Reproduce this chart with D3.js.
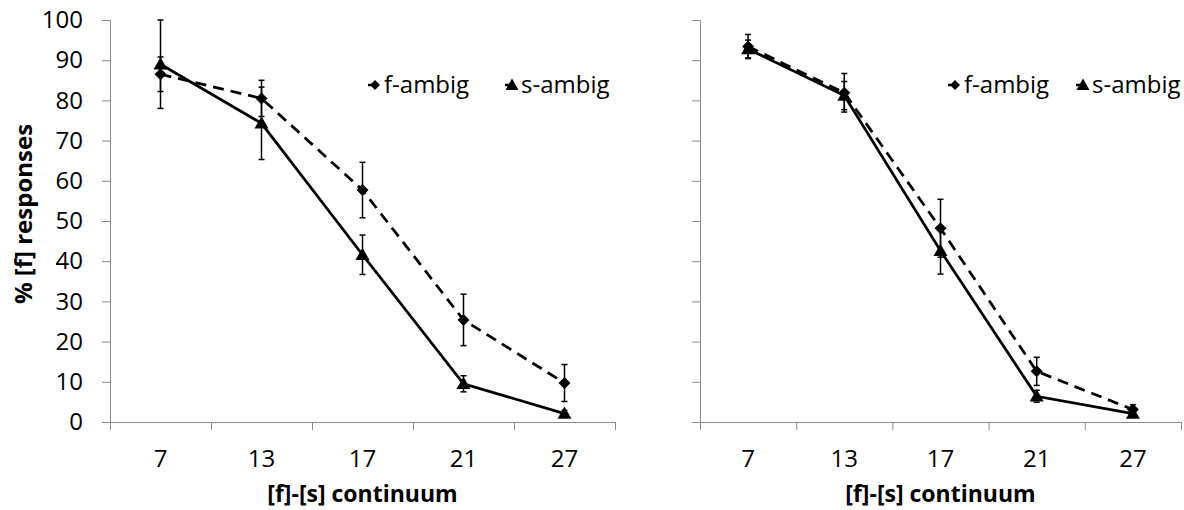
<!DOCTYPE html>
<html>
<head>
<meta charset="utf-8">
<script src="https://cdn.jsdelivr.net/npm/d3@7"></script>
<style>
  body { margin: 0; background: #fff; }
  text { font-family: "Open Sans", Lato, sans-serif; fill: #000; }
</style>
</head>
<body>
<div id="vis"></div>
<script>
// values
const categories = ["7", "13", "17", "21", "27"];
const seriesNames = ["f-ambig", "s-ambig"];
const yTicks = [0, 10, 20, 30, 40, 50, 60, 70, 80, 90, 100];

const leftF = [86.5, 80.5, 57.7, 25.4, 9.7];
const leftFErr = [4.3, 4.5, 6.9, 6.4, 4.6];
const leftS = [89.0, 74.3, 41.6, 9.5, 2.1];
const leftSErr = [11.0, 9.0, 4.9, 2.0, 0.8];

const rightF = [93.4, 81.9, 48.2, 12.6, 3.1];
const rightFErr = [3.0, 4.8, 7.2, 3.5, 1.2];
const rightS = [92.8, 81.2, 42.6, 6.4, 2.1];
const rightSErr = [2.2, 3.5, 5.8, 1.5, 0.8];

const width = 1184;
const height = 510;

const svg = d3.select("#vis").append("svg")
    .attr("width", width)
    .attr("height", height);

const y = d3.scaleLinear()
    .domain([0, 100])
    .range([422, 20]);

const panels = [
    { x0: 110, x1: 615, f: leftF, fErr: leftFErr, s: leftS, sErr: leftSErr, yLabels: true, legendX: [375, 512] },
    { x0: 700, x1: 1181, f: rightF, fErr: rightFErr, s: rightS, sErr: rightSErr, yLabels: false, legendX: [955, 1083] }
];

const axisColor = "#8c8c8c";

function diamond(g, cx, cy, r) {
    g.append("path")
        .attr("d", `M${cx},${cy - r}L${cx + r},${cy}L${cx},${cy + r}L${cx - r},${cy}Z`)
        .attr("fill", "#000");
}

function triangle(g, cx, cy, r) {
    g.append("path")
        .attr("d", `M${cx},${cy - r}L${cx + r},${cy + r * 0.75}L${cx - r},${cy + r * 0.75}Z`)
        .attr("fill", "#000");
}

panels.forEach(p => {
    const g = svg.append("g");

    const x = d3.scaleBand()
        .domain(categories)
        .range([p.x0, p.x1])
        .padding(0);

    // y axis
    const yAxis = d3.axisLeft(y)
        .tickValues(yTicks)
        .tickSize(8)
        .tickPadding(19)
        .tickFormat(p.yLabels ? d3.format("d") : "");

    const ya = g.append("g")
        .attr("transform", `translate(${p.x0},0)`)
        .call(yAxis);
    ya.select(".domain").attr("stroke", axisColor);
    ya.selectAll(".tick line").attr("stroke", axisColor);
    ya.selectAll(".tick text")
        .style("font-size", "24px")
        .attr("fill", "#000");

    // x axis: ticks at the band edges, labels at the band centres
    const edges = d3.scaleLinear().domain([0, categories.length]).range([p.x0, p.x1]);
    const xa = g.append("g")
        .attr("transform", `translate(0,${y(0)})`)
        .call(d3.axisBottom(edges).ticks(categories.length).tickSize(8).tickFormat(""));
    xa.select(".domain").attr("stroke", axisColor);
    xa.selectAll(".tick line").attr("stroke", axisColor);

    const xl = g.append("g")
        .attr("transform", `translate(0,${y(0)})`)
        .call(d3.axisBottom(x).tickSize(0).tickPadding(28));
    xl.select(".domain").remove();
    xl.selectAll(".tick text")
        .style("font-size", "24px")
        .attr("fill", "#000");

    // axis titles
    g.append("text")
        .attr("x", (p.x0 + p.x1) / 2)
        .attr("y", 502)
        .attr("text-anchor", "middle")
        .style("font-size", "23px")
        .style("font-weight", "bold")
        .text("[f]-[s] continuum");

    if (p.yLabels) {
        g.append("text")
            .attr("transform", "rotate(-90)")
            .attr("x", -214)
            .attr("y", 32)
            .attr("text-anchor", "middle")
            .style("font-size", "24px")
            .style("font-weight", "bold")
            .text("% [f] responses");
    }

    const cx = d => x(d) + x.bandwidth() / 2;

    // error bars
    const errs = [
        { vals: p.f, err: p.fErr },
        { vals: p.s, err: p.sErr }
    ];
    errs.forEach(e => {
        categories.forEach((c, i) => {
            const top = y(Math.min(100, e.vals[i] + e.err[i]));
            const bot = y(Math.max(0, e.vals[i] - e.err[i]));
            g.append("line")
                .attr("x1", cx(c)).attr("x2", cx(c))
                .attr("y1", top).attr("y2", bot)
                .attr("stroke", "#000").attr("stroke-width", 1.5);
            [top, bot].forEach(yy => {
                g.append("line")
                    .attr("x1", cx(c) - 3).attr("x2", cx(c) + 3)
                    .attr("y1", yy).attr("y2", yy)
                    .attr("stroke", "#000").attr("stroke-width", 1.5);
            });
        });
    });

    const line = d3.line()
        .x((d, i) => cx(categories[i]))
        .y(d => y(d));

    g.append("path")
        .datum(p.f)
        .attr("d", line)
        .attr("fill", "none")
        .attr("stroke", "#000")
        .attr("stroke-width", 2.75)
        .attr("stroke-dasharray", "11,7");

    g.append("path")
        .datum(p.s)
        .attr("d", line)
        .attr("fill", "none")
        .attr("stroke", "#000")
        .attr("stroke-width", 2.75);

    p.f.forEach((v, i) => diamond(g, cx(categories[i]), y(v), 6));
    p.s.forEach((v, i) => triangle(g, cx(categories[i]), y(v), 7));

    // legend
    const ly = 85;
    seriesNames.forEach((name, i) => {
        const mx = p.legendX[i];
        g.append("line")
            .attr("x1", mx - 7).attr("x2", mx)
            .attr("y1", ly).attr("y2", ly)
            .attr("stroke", "#000").attr("stroke-width", 2.5);
        if (i === 0) diamond(g, mx, ly, 5);
        else triangle(g, mx, ly, 6.5);
        g.append("text")
            .attr("x", mx + 9)
            .attr("y", ly + 8)
            .style("font-size", "24px")
            .text(name);
    });
});
</script>
</body>
</html>
